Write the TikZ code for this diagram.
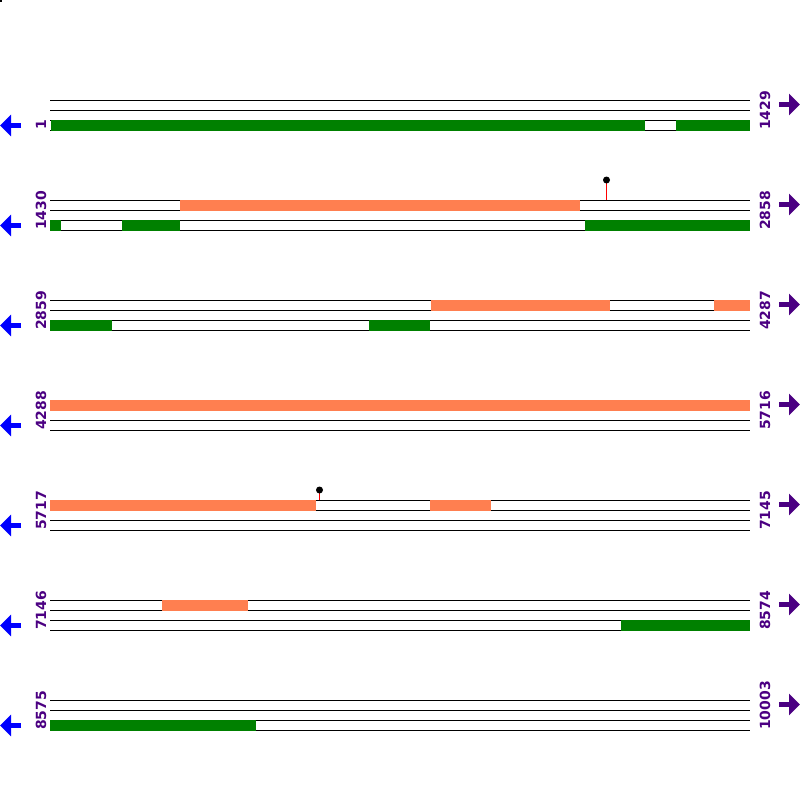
\documentclass[tikz,border=0pt]{standalone}
\usepackage{fontspec}
\setmainfont{DejaVu Sans}
\usetikzlibrary{arrows.meta}
\definecolor{coral}{HTML}{FF7F50}
\definecolor{darkgreen}{HTML}{008000}
\definecolor{indigo}{HTML}{4B0082}
\begin{document}
\begin{tikzpicture}[
  x=1pt, y=-1pt,
  track/.style={black, line width=1pt},
  fwd/.style={fill=coral},
  rev/.style={fill=darkgreen},
  coordlabel/.style={font=\fontsize{14}{14}\selectfont\bfseries, text=indigo, rotate=90, anchor=west, inner sep=0pt},
  leftarrow/.style={blue, line width=5pt, -{Triangle[length=11pt, width=21pt]}},
  rightarrow/.style={indigo, line width=5pt, -{Triangle[length=11pt, width=21pt]}},
  site/.style={red, line width=1pt},
]
  \useasboundingbox (0,0) rectangle (800,800);
  \fill[black] (0,0) rectangle (2,2);

  % rows of four track lines, labels and strand arrows
  \foreach \k/\first/\last in {1/1/1429, 2/1430/2858, 3/2859/4287, 4/4288/5716,
                               5/5717/7145, 6/7146/8574, 7/8575/10003} {
    \foreach \d in {0,10,20,30}
      \draw[track] (50,\k*100+\d) -- (750,\k*100+\d);
    \node[coordlabel] (start\k) at (41,\k*100+30) {\first};
    \node[coordlabel] (end\k) at (765,\k*100+30) {\last};
    \draw[leftarrow] (21,\k*100+25.5) -- (0,\k*100+25.5);
    \draw[rightarrow] (779,\k*100+4.5) -- (800,\k*100+4.5);
  }

  % forward strand features
  \foreach \k/\a/\b in {2/180/580, 3/431/610, 3/714/750, 4/50/750,
                        5/50/316, 5/430/491, 6/162/248}
    \fill[fwd] (\a,\k*100-0.5) rectangle (\b,\k*100+10.5);

  % reverse strand features
  \foreach \k/\a/\b in {1/51/645, 1/676/750, 2/50/61, 2/122/180, 2/585/750,
                        3/50/112, 3/369/430, 6/621/750, 7/50/256}
    \fill[rev] (\a,\k*100+19.5) rectangle (\b,\k*100+30.5);

  % sites
  \foreach \k/\x/\h in {2/606.5/20, 5/319.5/10} {
    \draw[site] (\x,\k*100) -- (\x,\k*100-\h);
    \fill[black] (\x,\k*100-\h) circle (3.5);
  }
\end{tikzpicture}
\end{document}
